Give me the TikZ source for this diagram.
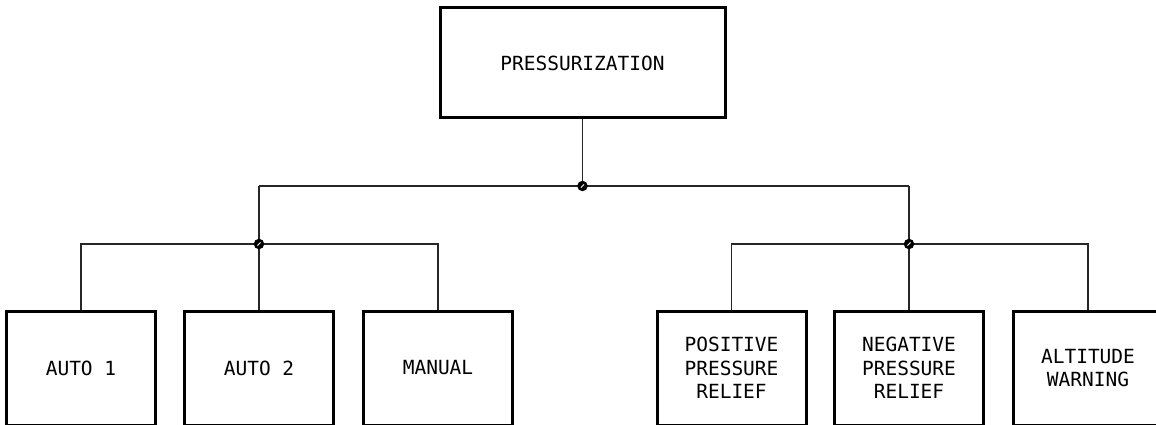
\documentclass[tikz,border=0pt]{standalone}
\usepackage{fontspec}
\newfontfamily\boxfont{DejaVu Sans Mono}
\begin{document}
\begin{tikzpicture}[x=1pt,y=-1pt,
  unit/.style={draw=black, line width=3pt, rectangle, align=center,
    inner sep=0pt, font=\boxfont\fontsize{19.5}{23.5}\selectfont},
  topunit/.style={unit, minimum width=285pt, minimum height=110pt},
  subunit/.style={unit, minimum width=149pt, minimum height=114pt},
  wire/.style={draw=black!85, line width=1.2pt},
  junction/.style={circle, fill=black, inner sep=0pt, minimum size=10.5pt}]
\useasboundingbox (0,0) rectangle (1156,425);

% system block
\node[topunit] (top) at (582.5,63) {PRESSURIZATION};

% subsystem blocks
\node[subunit] (auto1)  at (81,368)   {AUTO 1};
\node[subunit] (auto2)  at (259,368)  {AUTO 2};
\node[subunit] (manual) at (438,368)  {MANUAL};
\node[subunit] (pos)    at (731.5,368) {POSITIVE\\PRESSURE\\RELIEF};
\node[subunit] (neg)    at (909,368)  {NEGATIVE\\PRESSURE\\RELIEF};
\node[subunit] (alt)    at (1088,368) {ALTITUDE\\WARNING};

% branch points
\coordinate (j0) at (top.south |- 0,186);
\coordinate (cL) at (auto2.north |- 0,186);
\coordinate (cR) at (neg.north |- 0,186);
\coordinate (jL) at (auto2.north |- 0,244);
\coordinate (jR) at (neg.north |- 0,244);

% tree wiring
\draw[wire] (top.south) -- (j0);
\draw[wire] (cL) -- (cR);
\draw[wire] (cL) -- (auto2.north);
\draw[wire] (cR) -- (neg.north);
\draw[wire] (auto1.north) |- (jL) -| (manual.north);
\draw[wire] (pos.north) |- (jR) -| (alt.north);

% junction dots with a small white slash
\foreach \j in {j0,jL,jR} {
  \node[junction] at (\j) {};
  \draw[white, line width=1pt] ([shift={(-1.6pt,-1.6pt)}]\j) -- ([shift={(1.6pt,1.6pt)}]\j);
}
\end{tikzpicture}
\end{document}
